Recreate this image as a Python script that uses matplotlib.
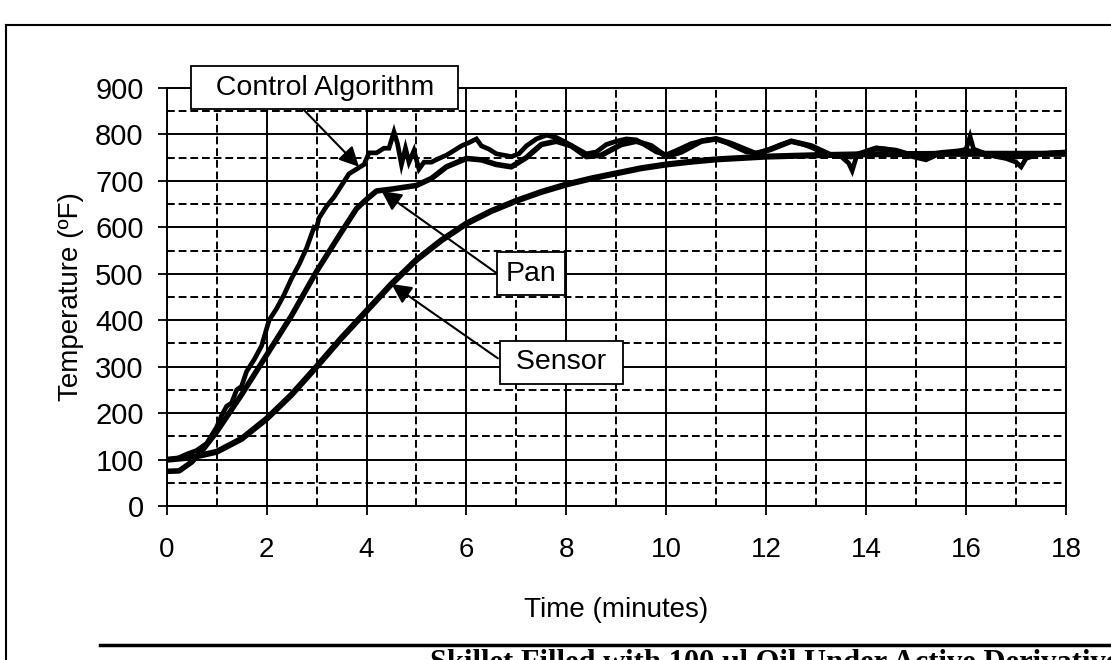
import numpy as np
import matplotlib
matplotlib.use("Agg")
import matplotlib.pyplot as plt
from matplotlib.lines import Line2D

# Datos (tiempo en minutos, temperatura en ºF)
t_sensor = [0, 0.5, 1, 1.5, 2, 2.5, 3, 3.5, 4, 4.5, 5, 5.5, 6, 6.5, 7, 7.5, 8,
            8.5, 9, 9.5, 10, 10.5, 11, 12, 13, 14, 16, 18]
v_sensor = [100, 105, 117, 145, 188, 240, 300, 362, 420, 478, 530, 572, 608, 635,
            657, 676, 692, 705, 716, 727, 735, 741, 746, 752, 755, 757, 758, 758]

t_pan = [0, 0.25, 0.5, 0.75, 1, 1.5, 2, 2.5, 3, 3.5, 3.8, 4, 4.2, 4.5, 5, 5.3,
         5.6, 6, 6.3, 6.6, 6.9, 7.2, 7.5, 7.8, 8.1, 8.4, 8.7, 9.1, 9.4, 9.7, 10.0,
         10.3, 10.7, 11.0, 11.3, 11.8, 12.1, 12.5, 12.9, 13.3, 13.7, 14.2, 14.6,
         15, 15.5, 16, 16.5, 17, 17.5, 18]
v_pan = [75, 76, 95, 125, 160, 240, 325, 410, 505, 590, 640, 660, 678, 682, 690,
         705, 730, 748, 745, 735, 730, 750, 778, 785, 775, 752, 755, 778, 785, 775,
         752, 762, 785, 790, 780, 758, 768, 785, 775, 755, 752, 770, 765, 752, 760,
         765, 755, 752, 758, 760]

t_ctrl = [0, 0.2, 0.4, 0.6, 0.8, 1.0, 1.1, 1.2, 1.3, 1.4, 1.5, 1.6, 1.75, 1.9,
          2.05, 2.2, 2.35, 2.5, 2.65, 2.8, 2.95, 3.0, 3.05, 3.2, 3.35, 3.5, 3.65,
          3.8, 3.95, 4.05, 4.2, 4.35, 4.45, 4.55, 4.62, 4.7, 4.78, 4.85, 4.95,
          5.05, 5.15, 5.3, 5.45, 5.6, 5.75, 5.9, 6.05, 6.2, 6.3, 6.45, 6.6, 6.75,
          6.9, 7.05, 7.2, 7.4, 7.6, 7.8, 8.0, 8.2, 8.4, 8.6, 8.8, 9.0, 9.2, 9.4,
          9.6, 9.8, 10.0, 10.2, 10.5, 10.8, 11.0, 11.2, 11.4, 11.6, 11.8, 12.0,
          12.3, 12.5, 12.7, 12.9, 13.1, 13.3, 13.5, 13.65, 13.72, 13.8, 14.0,
          14.2, 14.4, 14.6, 14.8, 15.0, 15.2, 15.4, 15.6, 15.8, 16.0, 16.08,
          16.15, 16.4, 16.6, 16.8, 17.0, 17.1, 17.2, 17.4, 17.7, 18.0]
v_ctrl = [100, 102, 112, 120, 135, 170, 195, 215, 222, 250, 258, 290, 315, 345,
          400, 425, 455, 490, 520, 555, 600, 598, 620, 645, 665, 690, 715, 725,
          735, 760, 760, 770, 770, 805, 780, 735, 770, 740, 765, 725, 740, 740,
          748, 755, 765, 775, 782, 790, 775, 768, 758, 755, 752, 758, 775, 790,
          798, 793, 782, 770, 758, 762, 778, 785, 790, 788, 775, 762, 756, 765,
          780, 788, 790, 782, 772, 762, 760, 765, 778, 785, 780, 772, 762, 755,
          752, 738, 722, 750, 762, 770, 768, 762, 755, 750, 745, 755, 760, 762,
          768, 795, 768, 758, 752, 748, 740, 730, 748, 755, 760, 762]

x_ticks = list(range(0, 19, 2))
y_ticks = list(range(0, 901, 100))

plt.rcParams['font.family'] = ['Liberation Sans', 'DejaVu Sans']

fig = plt.figure(figsize=(11.11, 6.6), dpi=100)
ax = fig.add_axes([0.150, 0.233, 0.8095, 0.634])

# rejilla: líneas mayores continuas y menores discontinuas
ax.set_xlim(0, 18)
ax.set_ylim(0, 900)
ax.set_xticks(x_ticks)
ax.set_yticks(y_ticks)
ax.set_xticks(np.arange(1, 18, 2), minor=True)
ax.set_yticks(np.arange(50, 900, 100), minor=True)
ax.grid(which='major', color='black', linewidth=1.4, linestyle='-')
ax.grid(which='minor', color='black', linewidth=1.4, linestyle=(0, (4, 2)))
ax.set_axisbelow(True)
ax.tick_params(which='minor', length=0)
ax.tick_params(axis='y', which='major', direction='out', length=6.5, width=1.3,
               labelsize=21, pad=10)
ax.tick_params(axis='x', which='major', direction='out', length=6.5, width=1.3,
               labelsize=20, pad=16)
for s in ax.spines.values():
    s.set_linewidth(1.4)

ax.plot(t_sensor, v_sensor, color='black', linewidth=4.4, solid_capstyle='round')
ax.plot(t_pan, v_pan, color='black', linewidth=4.0, solid_capstyle='round')
ax.plot(t_ctrl, v_ctrl, color='black', linewidth=3.4, solid_joinstyle='miter')

ax.set_xlabel('Time (minutes)', fontsize=20, labelpad=24)
ax.set_ylabel('Temperature (ºF)', fontsize=20, labelpad=8)

# etiquetas con flechas
box = dict(boxstyle='square,pad=0.3', facecolor='white', edgecolor='black', linewidth=1.3)
arrow = dict(arrowstyle='-|>', color='black', linewidth=1.5, mutation_scale=30,
             shrinkA=0, shrinkB=0)

ax.annotate('', xy=(3.85, 730), xytext=(2.66, 862), arrowprops=arrow,
            annotation_clip=False)
ax.annotate('', xy=(4.3, 678), xytext=(6.62, 500), arrowprops=arrow,
            annotation_clip=False)
ax.annotate('', xy=(4.5, 478), xytext=(6.63, 318), arrowprops=arrow,
            annotation_clip=False)

ax.text(3.16, 900, '  Control Algorithm  ', fontsize=20.5, ha='center', va='center',
        bbox=box, clip_on=False, zorder=5)
ax.text(7.3, 500, 'Pan', fontsize=20.5, ha='center', va='center',
        bbox=box, clip_on=False, zorder=5)
ax.text(7.9, 310, ' Sensor ', fontsize=20.5, ha='center', va='center',
        bbox=box, clip_on=False, zorder=5)

# marco exterior y pie de figura recortado
fig.add_artist(Line2D([6 / 1111, 1], [1 - 25 / 660, 1 - 25 / 660], color='black', linewidth=1.5))
fig.add_artist(Line2D([6 / 1111, 6 / 1111], [1 - 25 / 660, 0], color='black', linewidth=1.5))
fig.add_artist(Line2D([100 / 1111, 1], [1 - 645 / 660, 1 - 645 / 660], color='black', linewidth=2.5))
fig.text(430 / 1111, 1 - 649 / 660, 'Skillet Filled with 100 µl Oil Under Active Derivative Control',
         family='Liberation Serif', fontweight='bold', fontsize=22, va='top', ha='left')

fig.savefig('out.png', dpi=100)
